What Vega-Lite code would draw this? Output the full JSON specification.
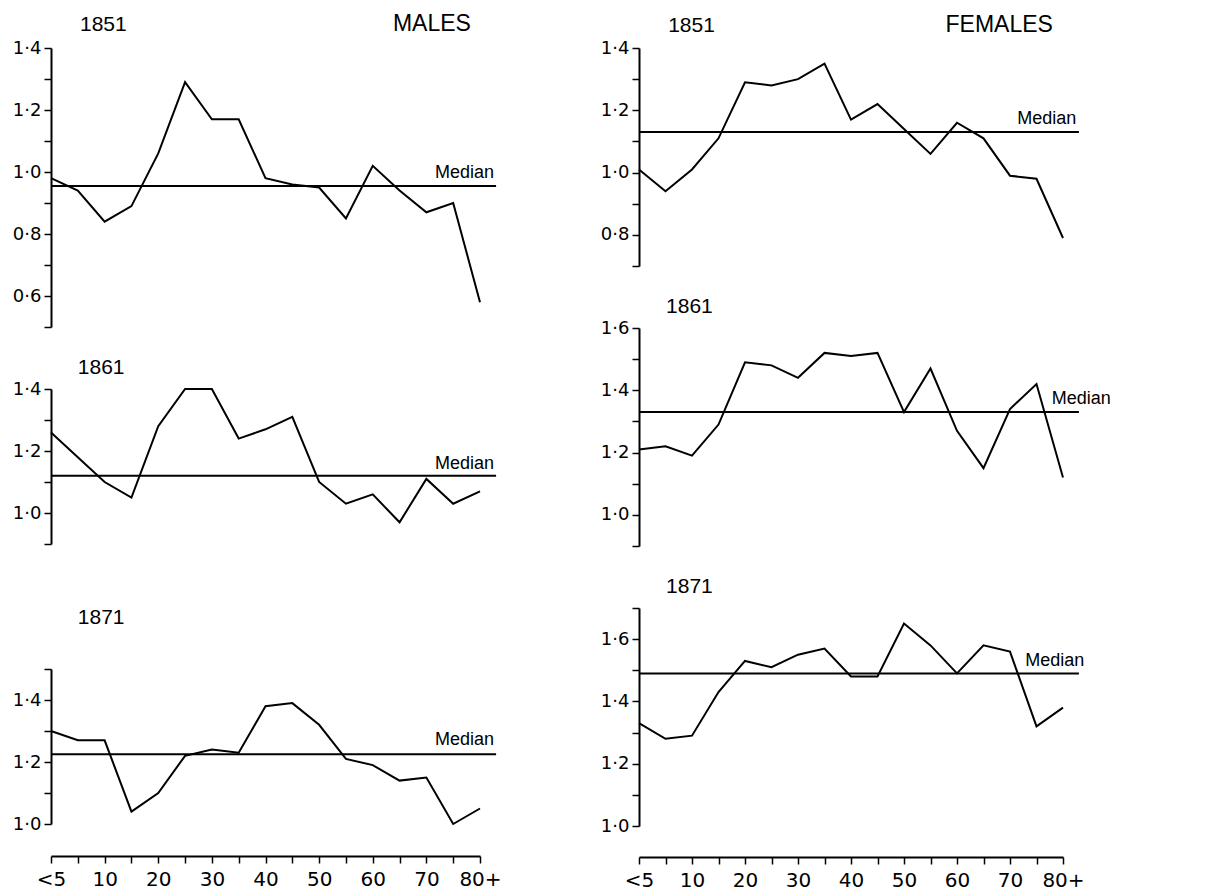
{
  "$schema": "https://vega.github.io/schema/vega-lite/v6.json",
  "background": "white",
  "padding": {"left": 12, "top": 12, "right": 0, "bottom": 0},
  "config": {
    "font": "Liberation Sans",
    "view": {"stroke": null},
    "axis": {"domainColor": "black", "tickColor": "black", "labelColor": "black", "domainWidth": 2, "tickWidth": 1.5, "grid": false, "labelFont": "DejaVu Sans", "labelFontSize": 18, "titleFontSize": 0},
    "text": {"font": "Liberation Sans", "color": "black"}
  },
  "datasets": {
    "series": [
      {"sex":"Males","year":1851,"age":0,"ratio":0.98},{"sex":"Males","year":1851,"age":5,"ratio":0.94},{"sex":"Males","year":1851,"age":10,"ratio":0.84},{"sex":"Males","year":1851,"age":15,"ratio":0.89},{"sex":"Males","year":1851,"age":20,"ratio":1.06},{"sex":"Males","year":1851,"age":25,"ratio":1.29},{"sex":"Males","year":1851,"age":30,"ratio":1.17},{"sex":"Males","year":1851,"age":35,"ratio":1.17},{"sex":"Males","year":1851,"age":40,"ratio":0.98},{"sex":"Males","year":1851,"age":45,"ratio":0.96},{"sex":"Males","year":1851,"age":50,"ratio":0.95},{"sex":"Males","year":1851,"age":55,"ratio":0.85},{"sex":"Males","year":1851,"age":60,"ratio":1.02},{"sex":"Males","year":1851,"age":65,"ratio":0.94},{"sex":"Males","year":1851,"age":70,"ratio":0.87},{"sex":"Males","year":1851,"age":75,"ratio":0.90},{"sex":"Males","year":1851,"age":80,"ratio":0.58},
      {"sex":"Males","year":1861,"age":0,"ratio":1.26},{"sex":"Males","year":1861,"age":5,"ratio":1.18},{"sex":"Males","year":1861,"age":10,"ratio":1.10},{"sex":"Males","year":1861,"age":15,"ratio":1.05},{"sex":"Males","year":1861,"age":20,"ratio":1.28},{"sex":"Males","year":1861,"age":25,"ratio":1.40},{"sex":"Males","year":1861,"age":30,"ratio":1.40},{"sex":"Males","year":1861,"age":35,"ratio":1.24},{"sex":"Males","year":1861,"age":40,"ratio":1.27},{"sex":"Males","year":1861,"age":45,"ratio":1.31},{"sex":"Males","year":1861,"age":50,"ratio":1.10},{"sex":"Males","year":1861,"age":55,"ratio":1.03},{"sex":"Males","year":1861,"age":60,"ratio":1.06},{"sex":"Males","year":1861,"age":65,"ratio":0.97},{"sex":"Males","year":1861,"age":70,"ratio":1.11},{"sex":"Males","year":1861,"age":75,"ratio":1.03},{"sex":"Males","year":1861,"age":80,"ratio":1.07},
      {"sex":"Males","year":1871,"age":0,"ratio":1.30},{"sex":"Males","year":1871,"age":5,"ratio":1.27},{"sex":"Males","year":1871,"age":10,"ratio":1.27},{"sex":"Males","year":1871,"age":15,"ratio":1.04},{"sex":"Males","year":1871,"age":20,"ratio":1.10},{"sex":"Males","year":1871,"age":25,"ratio":1.22},{"sex":"Males","year":1871,"age":30,"ratio":1.24},{"sex":"Males","year":1871,"age":35,"ratio":1.23},{"sex":"Males","year":1871,"age":40,"ratio":1.38},{"sex":"Males","year":1871,"age":45,"ratio":1.39},{"sex":"Males","year":1871,"age":50,"ratio":1.32},{"sex":"Males","year":1871,"age":55,"ratio":1.21},{"sex":"Males","year":1871,"age":60,"ratio":1.19},{"sex":"Males","year":1871,"age":65,"ratio":1.14},{"sex":"Males","year":1871,"age":70,"ratio":1.15},{"sex":"Males","year":1871,"age":75,"ratio":1.00},{"sex":"Males","year":1871,"age":80,"ratio":1.05},
      {"sex":"Females","year":1851,"age":0,"ratio":1.01},{"sex":"Females","year":1851,"age":5,"ratio":0.94},{"sex":"Females","year":1851,"age":10,"ratio":1.01},{"sex":"Females","year":1851,"age":15,"ratio":1.11},{"sex":"Females","year":1851,"age":20,"ratio":1.29},{"sex":"Females","year":1851,"age":25,"ratio":1.28},{"sex":"Females","year":1851,"age":30,"ratio":1.30},{"sex":"Females","year":1851,"age":35,"ratio":1.35},{"sex":"Females","year":1851,"age":40,"ratio":1.17},{"sex":"Females","year":1851,"age":45,"ratio":1.22},{"sex":"Females","year":1851,"age":50,"ratio":1.14},{"sex":"Females","year":1851,"age":55,"ratio":1.06},{"sex":"Females","year":1851,"age":60,"ratio":1.16},{"sex":"Females","year":1851,"age":65,"ratio":1.11},{"sex":"Females","year":1851,"age":70,"ratio":0.99},{"sex":"Females","year":1851,"age":75,"ratio":0.98},{"sex":"Females","year":1851,"age":80,"ratio":0.79},
      {"sex":"Females","year":1861,"age":0,"ratio":1.21},{"sex":"Females","year":1861,"age":5,"ratio":1.22},{"sex":"Females","year":1861,"age":10,"ratio":1.19},{"sex":"Females","year":1861,"age":15,"ratio":1.29},{"sex":"Females","year":1861,"age":20,"ratio":1.49},{"sex":"Females","year":1861,"age":25,"ratio":1.48},{"sex":"Females","year":1861,"age":30,"ratio":1.44},{"sex":"Females","year":1861,"age":35,"ratio":1.52},{"sex":"Females","year":1861,"age":40,"ratio":1.51},{"sex":"Females","year":1861,"age":45,"ratio":1.52},{"sex":"Females","year":1861,"age":50,"ratio":1.33},{"sex":"Females","year":1861,"age":55,"ratio":1.47},{"sex":"Females","year":1861,"age":60,"ratio":1.27},{"sex":"Females","year":1861,"age":65,"ratio":1.15},{"sex":"Females","year":1861,"age":70,"ratio":1.34},{"sex":"Females","year":1861,"age":75,"ratio":1.42},{"sex":"Females","year":1861,"age":80,"ratio":1.12},
      {"sex":"Females","year":1871,"age":0,"ratio":1.33},{"sex":"Females","year":1871,"age":5,"ratio":1.28},{"sex":"Females","year":1871,"age":10,"ratio":1.29},{"sex":"Females","year":1871,"age":15,"ratio":1.43},{"sex":"Females","year":1871,"age":20,"ratio":1.53},{"sex":"Females","year":1871,"age":25,"ratio":1.51},{"sex":"Females","year":1871,"age":30,"ratio":1.55},{"sex":"Females","year":1871,"age":35,"ratio":1.57},{"sex":"Females","year":1871,"age":40,"ratio":1.48},{"sex":"Females","year":1871,"age":45,"ratio":1.48},{"sex":"Females","year":1871,"age":50,"ratio":1.65},{"sex":"Females","year":1871,"age":55,"ratio":1.58},{"sex":"Females","year":1871,"age":60,"ratio":1.49},{"sex":"Females","year":1871,"age":65,"ratio":1.58},{"sex":"Females","year":1871,"age":70,"ratio":1.56},{"sex":"Females","year":1871,"age":75,"ratio":1.32},{"sex":"Females","year":1871,"age":80,"ratio":1.38}
    ],
    "medians": [
      {"sex":"Males","year":1851,"median":0.955},
      {"sex":"Males","year":1861,"median":1.12},
      {"sex":"Males","year":1871,"median":1.225},
      {"sex":"Females","year":1851,"median":1.13},
      {"sex":"Females","year":1861,"median":1.33},
      {"sex":"Females","year":1871,"median":1.49}
    ]
  },
  "hconcat": [
    {
      "bounds": "flush",
      "spacing": 62,
      "vconcat": [
        {
          "width": 429, "height": 279,
          "layer": [
            {"data": {"name": "series"}, "transform": [{"filter": "datum.sex=='Males' && datum.year==1851"}],
             "mark": {"type": "line", "color": "black", "strokeWidth": 2},
             "encoding": {
               "x": {"field": "age", "type": "quantitative", "scale": {"domain": [0, 80]}, "axis": null},
               "y": {"field": "ratio", "type": "quantitative", "scale": {"domain": [0.5, 1.4], "zero": false, "nice": false},
                     "axis": {"title": null, "values": [0.5,0.6,0.7,0.8,0.9,1.0,1.1,1.2,1.3,1.4], "tickCount": 30, "tickSize": 7, "labelPadding": 3, "labelOverlap": false, "labelExpr": "round(datum.value*10)%2==0 ? replace(format(datum.value,'.1f'),'.','·') : ''"}}
             }},
            {"data": {"name": "medians"}, "transform": [{"filter": "datum.sex=='Males' && datum.year==1851"}],
             "mark": {"type": "rule", "color": "black", "strokeWidth": 2},
             "encoding": {"y": {"field": "median", "type": "quantitative", "title": null}, "x": {"datum": 0}, "x2": {"datum": 83}}},
            {"data": {"name": "medians"}, "transform": [{"filter": "datum.sex=='Males' && datum.year==1851"}],
             "mark": {"type": "text", "text": "Median", "align": "right", "baseline": "alphabetic", "dy": -8, "fontSize": 18},
             "encoding": {"y": {"field": "median", "type": "quantitative", "title": null}, "x": {"datum": 82.6}}},
            {"data": {"name": "medians"}, "transform": [{"filter": "datum.sex=='Males' && datum.year==1851"}],
             "mark": {"type": "text", "text": "1851", "align": "left", "baseline": "alphabetic", "fontSize": 21},
             "encoding": {"y": {"datum": 1.455}, "x": {"datum": 5.4}}},
            {"data": {"name": "medians"}, "transform": [{"filter": "datum.sex=='Males' && datum.year==1851"}],
             "mark": {"type": "text", "text": "MALES", "align": "right", "baseline": "alphabetic", "fontSize": 23},
             "encoding": {"y": {"datum": 1.455}, "x": {"datum": 78.3}}}
          ]
        },
        {
          "bounds": "flush",
          "spacing": 125,
          "vconcat": [
            {
              "width": 429, "height": 155,
              "layer": [
                {"data": {"name": "series"}, "transform": [{"filter": "datum.sex=='Males' && datum.year==1861"}],
                 "mark": {"type": "line", "color": "black", "strokeWidth": 2},
                 "encoding": {
                   "x": {"field": "age", "type": "quantitative", "scale": {"domain": [0, 80]}, "axis": null},
                   "y": {"field": "ratio", "type": "quantitative", "scale": {"domain": [0.9, 1.4], "zero": false, "nice": false},
                         "axis": {"title": null, "values": [0.9,1.0,1.1,1.2,1.3,1.4], "tickCount": 30, "tickSize": 7, "labelPadding": 3, "labelOverlap": false, "labelExpr": "round(datum.value*10)%2==0 ? replace(format(datum.value,'.1f'),'.','·') : ''"}}
                 }},
                {"data": {"name": "medians"}, "transform": [{"filter": "datum.sex=='Males' && datum.year==1861"}],
                 "mark": {"type": "rule", "color": "black", "strokeWidth": 2},
                 "encoding": {"y": {"field": "median", "type": "quantitative", "title": null}, "x": {"datum": 0}, "x2": {"datum": 83}}},
                {"data": {"name": "medians"}, "transform": [{"filter": "datum.sex=='Males' && datum.year==1861"}],
                 "mark": {"type": "text", "text": "Median", "align": "right", "baseline": "alphabetic", "dy": -7, "fontSize": 18},
                 "encoding": {"y": {"field": "median", "type": "quantitative", "title": null}, "x": {"datum": 82.6}}},
                {"data": {"name": "medians"}, "transform": [{"filter": "datum.sex=='Males' && datum.year==1861"}],
                 "mark": {"type": "text", "text": "1861", "align": "left", "baseline": "alphabetic", "fontSize": 21},
                 "encoding": {"y": {"datum": 1.448}, "x": {"datum": 5.0}}}
              ]
            },
            {
              "width": 429, "height": 155,
              "layer": [
                {"data": {"name": "series"}, "transform": [{"filter": "datum.sex=='Males' && datum.year==1871"}],
                 "mark": {"type": "line", "color": "black", "strokeWidth": 2},
                 "encoding": {
                   "x": {"field": "age", "type": "quantitative", "scale": {"domain": [0, 80]},
                         "axis": {"title": null, "values": [0,5,10,15,20,25,30,35,40,45,50,55,60,65,70,75,80], "tickCount": 40, "tickSize": 7, "offset": 32, "labelFlush": false, "labelOverlap": false, "labelPadding": 6, "labelFontSize": 20, "labelExpr": "datum.value==0 ? '<5' : datum.value==80 ? '80+' : datum.value%10==0 ? datum.value+'' : ''"}},
                   "y": {"field": "ratio", "type": "quantitative", "scale": {"domain": [1.0, 1.5], "zero": false, "nice": false},
                         "axis": {"title": null, "values": [1.0,1.1,1.2,1.3,1.4,1.5], "tickCount": 30, "tickSize": 7, "labelPadding": 3, "labelOverlap": false, "labelExpr": "round(datum.value*10)%2==0 ? replace(format(datum.value,'.1f'),'.','·') : ''"}}
                 }},
                {"data": {"name": "medians"}, "transform": [{"filter": "datum.sex=='Males' && datum.year==1871"}],
                 "mark": {"type": "rule", "color": "black", "strokeWidth": 2},
                 "encoding": {"y": {"field": "median", "type": "quantitative", "title": null}, "x": {"datum": 0}, "x2": {"datum": 83}}},
                {"data": {"name": "medians"}, "transform": [{"filter": "datum.sex=='Males' && datum.year==1871"}],
                 "mark": {"type": "text", "text": "Median", "align": "right", "baseline": "alphabetic", "dy": -9, "fontSize": 18},
                 "encoding": {"y": {"field": "median", "type": "quantitative", "title": null}, "x": {"datum": 82.6}}},
                {"data": {"name": "medians"}, "transform": [{"filter": "datum.sex=='Males' && datum.year==1871"}],
                 "mark": {"type": "text", "text": "1871", "align": "left", "baseline": "alphabetic", "fontSize": 21},
                 "encoding": {"y": {"datum": 1.645}, "x": {"datum": 5.0}}}
              ]
            }
          ]
        }
      ]
    },
    {
      "bounds": "flush",
      "spacing": 62,
      "vconcat": [
        {
          "width": 424, "height": 218,
          "layer": [
            {"data": {"name": "series"}, "transform": [{"filter": "datum.sex=='Females' && datum.year==1851"}],
             "mark": {"type": "line", "color": "black", "strokeWidth": 2},
             "encoding": {
               "x": {"field": "age", "type": "quantitative", "scale": {"domain": [0, 80]}, "axis": null},
               "y": {"field": "ratio", "type": "quantitative", "scale": {"domain": [0.7, 1.4], "zero": false, "nice": false},
                     "axis": {"title": null, "values": [0.7,0.8,0.9,1.0,1.1,1.2,1.3,1.4], "tickCount": 30, "tickSize": 7, "labelPadding": 3, "labelOverlap": false, "labelExpr": "round(datum.value*10)%2==0 ? replace(format(datum.value,'.1f'),'.','·') : ''"}}
             }},
            {"data": {"name": "medians"}, "transform": [{"filter": "datum.sex=='Females' && datum.year==1851"}],
             "mark": {"type": "rule", "color": "black", "strokeWidth": 2},
             "encoding": {"y": {"field": "median", "type": "quantitative", "title": null}, "x": {"datum": 0}, "x2": {"datum": 83}}},
            {"data": {"name": "medians"}, "transform": [{"filter": "datum.sex=='Females' && datum.year==1851"}],
             "mark": {"type": "text", "text": "Median", "align": "right", "baseline": "alphabetic", "dy": -8, "fontSize": 18},
             "encoding": {"y": {"field": "median", "type": "quantitative", "title": null}, "x": {"datum": 82.5}}},
            {"data": {"name": "medians"}, "transform": [{"filter": "datum.sex=='Females' && datum.year==1851"}],
             "mark": {"type": "text", "text": "1851", "align": "left", "baseline": "alphabetic", "fontSize": 21},
             "encoding": {"y": {"datum": 1.451}, "x": {"datum": 5.5}}},
            {"data": {"name": "medians"}, "transform": [{"filter": "datum.sex=='Females' && datum.year==1851"}],
             "mark": {"type": "text", "text": "FEMALES", "align": "right", "baseline": "alphabetic", "fontSize": 23},
             "encoding": {"y": {"datum": 1.451}, "x": {"datum": 78.1}}}
          ]
        },
        {
          "width": 424, "height": 218,
          "layer": [
            {"data": {"name": "series"}, "transform": [{"filter": "datum.sex=='Females' && datum.year==1861"}],
             "mark": {"type": "line", "color": "black", "strokeWidth": 2},
             "encoding": {
               "x": {"field": "age", "type": "quantitative", "scale": {"domain": [0, 80]}, "axis": null},
               "y": {"field": "ratio", "type": "quantitative", "scale": {"domain": [0.9, 1.6], "zero": false, "nice": false},
                     "axis": {"title": null, "values": [0.9,1.0,1.1,1.2,1.3,1.4,1.5,1.6], "tickCount": 30, "tickSize": 7, "labelPadding": 3, "labelOverlap": false, "labelExpr": "round(datum.value*10)%2==0 ? replace(format(datum.value,'.1f'),'.','·') : ''"}}
             }},
            {"data": {"name": "medians"}, "transform": [{"filter": "datum.sex=='Females' && datum.year==1861"}],
             "mark": {"type": "rule", "color": "black", "strokeWidth": 2},
             "encoding": {"y": {"field": "median", "type": "quantitative", "title": null}, "x": {"datum": 0}, "x2": {"datum": 83}}},
            {"data": {"name": "medians"}, "transform": [{"filter": "datum.sex=='Females' && datum.year==1861"}],
             "mark": {"type": "text", "text": "Median", "align": "right", "baseline": "alphabetic", "dy": -8, "fontSize": 18},
             "encoding": {"y": {"field": "median", "type": "quantitative", "title": null}, "x": {"datum": 89}}},
            {"data": {"name": "medians"}, "transform": [{"filter": "datum.sex=='Females' && datum.year==1861"}],
             "mark": {"type": "text", "text": "1861", "align": "left", "baseline": "alphabetic", "fontSize": 21},
             "encoding": {"y": {"datum": 1.648}, "x": {"datum": 5.1}}}
          ]
        },
        {
          "width": 424, "height": 218,
          "layer": [
            {"data": {"name": "series"}, "transform": [{"filter": "datum.sex=='Females' && datum.year==1871"}],
             "mark": {"type": "line", "color": "black", "strokeWidth": 2},
             "encoding": {
               "x": {"field": "age", "type": "quantitative", "scale": {"domain": [0, 80]},
                     "axis": {"title": null, "values": [0,5,10,15,20,25,30,35,40,45,50,55,60,65,70,75,80], "tickCount": 40, "tickSize": 7, "offset": 31, "labelFlush": false, "labelOverlap": false, "labelPadding": 6, "labelFontSize": 20, "labelExpr": "datum.value==0 ? '<5' : datum.value==80 ? '80+' : datum.value%10==0 ? datum.value+'' : ''"}},
               "y": {"field": "ratio", "type": "quantitative", "scale": {"domain": [1.0, 1.7], "zero": false, "nice": false},
                     "axis": {"title": null, "values": [1.0,1.1,1.2,1.3,1.4,1.5,1.6,1.7], "tickCount": 30, "tickSize": 7, "labelPadding": 3, "labelOverlap": false, "labelExpr": "round(datum.value*10)%2==0 ? replace(format(datum.value,'.1f'),'.','·') : ''"}}
             }},
            {"data": {"name": "medians"}, "transform": [{"filter": "datum.sex=='Females' && datum.year==1871"}],
             "mark": {"type": "rule", "color": "black", "strokeWidth": 2},
             "encoding": {"y": {"field": "median", "type": "quantitative", "title": null}, "x": {"datum": 0}, "x2": {"datum": 83}}},
            {"data": {"name": "medians"}, "transform": [{"filter": "datum.sex=='Females' && datum.year==1871"}],
             "mark": {"type": "text", "text": "Median", "align": "right", "baseline": "alphabetic", "dy": -7, "fontSize": 18},
             "encoding": {"y": {"field": "median", "type": "quantitative", "title": null}, "x": {"datum": 84}}},
            {"data": {"name": "medians"}, "transform": [{"filter": "datum.sex=='Females' && datum.year==1871"}],
             "mark": {"type": "text", "text": "1871", "align": "left", "baseline": "alphabetic", "fontSize": 21},
             "encoding": {"y": {"datum": 1.748}, "x": {"datum": 5.1}}}
          ]
        }
      ]
    }
  ],
  "bounds": "flush",
  "spacing": 588
}
